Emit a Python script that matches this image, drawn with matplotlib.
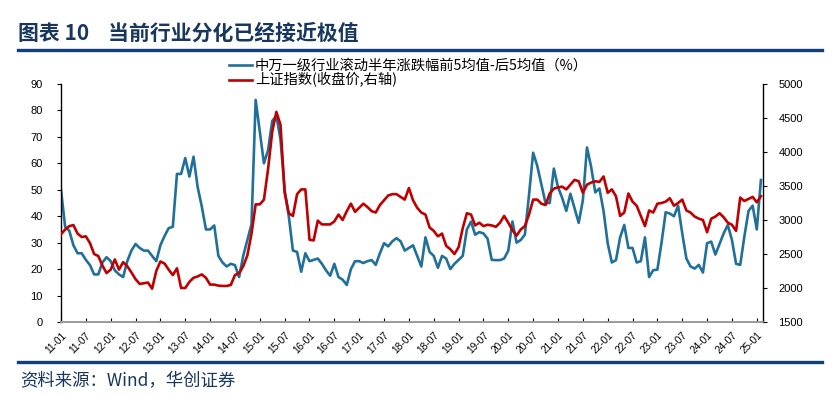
import numpy as np
import matplotlib
matplotlib.use('Agg')
import matplotlib.pyplot as plt
from matplotlib.lines import Line2D

plt.rcParams['font.family'] = ['Liberation Sans', 'Noto Sans CJK SC']

# monthly, 2011-01 .. 2025-02
spread = [50, 36, 34.5, 29, 26, 26, 23.5, 21.5, 18, 18, 22.5, 24.5,
          23, 19.5, 18, 17, 23, 27, 29.5, 28, 27, 27, 25, 23,
          29, 32.5, 35.5, 36, 56, 56, 62, 55, 62.5, 51, 43.6, 35,
          35, 36.5, 25, 22.5, 21, 22, 21.5, 17, 25, 31, 37, 84,
          72, 60, 65, 76, 78, 69, 50, 40, 27, 26.5, 19, 26,
          23, 23.5, 24, 22, 19.5, 17.5, 22, 17, 16, 14, 20, 23,
          23, 22.3, 23, 23.4, 21.6, 26, 29.8, 28.6, 30.5, 31.7, 30.5, 27,
          28, 29, 25, 21, 32, 26.5, 25, 20.5, 25, 24, 20, 22,
          23.5, 25, 35, 38, 33, 34, 33.5, 31.5, 23.5, 23.4, 23.4, 24,
          27, 38, 30, 31, 33, 48, 64, 59, 52, 44.9, 45, 58,
          51, 47, 42, 48.5, 43, 37.5, 46, 66, 58.7, 49, 50.5, 42,
          29.8, 22.5, 23.4, 32, 36.7, 28, 28, 22.5, 23, 32, 17, 19.6,
          19.8, 30, 41.5, 41, 40, 44, 33.5, 24, 21, 20.2, 21.6, 18.7,
          29.8, 30.4, 25.5, 29.5, 33.5, 36.7, 31, 22, 21.6, 32.3, 42, 44,
          35, 53.7]

sh_index = [2790, 2860, 2910, 2925, 2800, 2750, 2760, 2660, 2500, 2470, 2330, 2220,
            2270, 2420, 2270, 2380, 2320, 2230, 2130, 2060, 2070, 2080, 1990, 2250,
            2390, 2360, 2270, 2190, 2290, 2000, 2000, 2090, 2150, 2170, 2200, 2150,
            2050, 2050, 2035, 2030, 2030, 2045, 2190, 2220, 2320, 2480, 2800, 3230,
            3230, 3300, 3750, 4300, 4590, 4400, 3400, 3100, 3060, 3380, 3450, 3450,
            2710, 2700, 2990, 2935, 2935, 2935, 2980, 3080, 3000, 3130, 3240, 3120,
            3180, 3240, 3190, 3130, 3110, 3220, 3290, 3360, 3380, 3380, 3340, 3300,
            3470, 3290, 3180, 3110, 3080, 2890, 2840, 2760, 2800, 2620, 2570, 2500,
            2600, 2880, 3100, 3080, 2920, 2960, 2910, 2930, 2920, 2900, 2960, 3060,
            2960, 2850, 2770, 2860, 2910, 3080, 3300, 3300, 3240, 3220, 3390, 3460,
            3480, 3490, 3450, 3520, 3590, 3570, 3400, 3520, 3550, 3570, 3560, 3640,
            3400, 3450, 3350, 3060, 3110, 3390, 3270, 3210, 3060, 2910, 3140, 3110,
            3240, 3250, 3270, 3320, 3210, 3250, 3300, 3140, 3110, 3050, 3020, 3000,
            2820, 3020, 3050, 3100, 3040, 2960, 2930, 2840, 3330, 3280, 3310, 3340,
            3260, 3350]

tick_labels = ['11-01', '11-07', '12-01', '12-07', '13-01', '13-07', '14-01', '14-07',
               '15-01', '15-07', '16-01', '16-07', '17-01', '17-07', '18-01', '18-07',
               '19-01', '19-07', '20-01', '20-07', '21-01', '21-07', '22-01', '22-07',
               '23-01', '23-07', '24-01', '24-07', '25-01']

label_spread = '中万一级行业滚动半年涨跌幅前5均值-后5均值（%）'
label_index = '上证指数(收盘价,右轴)'

BLUE = '#21709A'
RED = '#C00000'
NAVY = '#17375E'

W, H = 834, 396
fig = plt.figure(figsize=(W / 100, H / 100), dpi=100)
ax = fig.add_axes([61 / W, 1 - 322 / H, (763 - 61) / W, (322 - 84) / H])
ax2 = ax.twinx()

x = np.arange(len(spread))
l_blue, = ax.plot(x, spread, color=BLUE, lw=1.9, solid_joinstyle='round')
l_red, = ax2.plot(x, sh_index, color=RED, lw=1.9, solid_joinstyle='round')

ax.set_xlim(0, len(spread) - 0.5)
ax.set_ylim(0, 90)
ax.set_yticks(np.arange(0, 91, 10))
ax2.set_ylim(1500, 5000)
ax2.set_yticks(np.arange(1500, 5001, 500))

ax.set_xticks(np.arange(len(tick_labels)) * 6)
ax.set_xticklabels(tick_labels, rotation=45, ha='right', rotation_mode='anchor', fontsize=7.3)

for a in (ax, ax2):
    a.spines['top'].set_visible(False)
    a.spines['bottom'].set_color('#9A9A9A')
    a.spines['bottom'].set_linewidth(1.2)
ax.spines['right'].set_visible(False)
ax2.spines['left'].set_visible(False)
ax.spines['left'].set_linewidth(1.0)
ax2.spines['right'].set_linewidth(1.0)

ax.tick_params(axis='y', direction='out', length=3, width=0.8, labelsize=8, pad=10)
ax.tick_params(axis='x', direction='in', length=3, width=0.8, pad=6)
ax2.tick_params(axis='y', direction='out', length=3, width=0.8, labelsize=8, pad=8)

# two single-entry legends so the rows can sit closer than the CJK line height
leg_prop = {'family': ['Noto Sans CJK SC'], 'size': 10.3}
for handle, text, ypix in [(l_blue, label_spread, 66), (l_red, label_index, 80)]:
    fig.legend([handle], [text], loc='center left', bbox_to_anchor=(229 / W, 1 - ypix / H),
               frameon=False, handlelength=1.6, handletextpad=0.2, borderpad=0,
               borderaxespad=0, prop=leg_prop)

fig.text(18 / W, 1 - 33 / H, '图表 10    当前行业分化已经接近极值', fontsize=15,
         fontweight='bold', color=NAVY, va='center', ha='left', family=['Noto Sans CJK SC'])
fig.add_artist(Line2D([18 / W, 822 / W], [1 - 50 / H] * 2, color='#0F3F7C', lw=2.4))
fig.add_artist(Line2D([18 / W, 822 / W], [1 - 362 / H] * 2, color='#0F3F7C', lw=2.4))
fig.text(20 / W, 1 - 381 / H, '资料来源：Wind，华创证券', fontsize=12.5, color=NAVY,
         va='center', ha='left', style='italic', family=['Noto Sans CJK SC'])

fig.savefig('out.png', dpi=100)
